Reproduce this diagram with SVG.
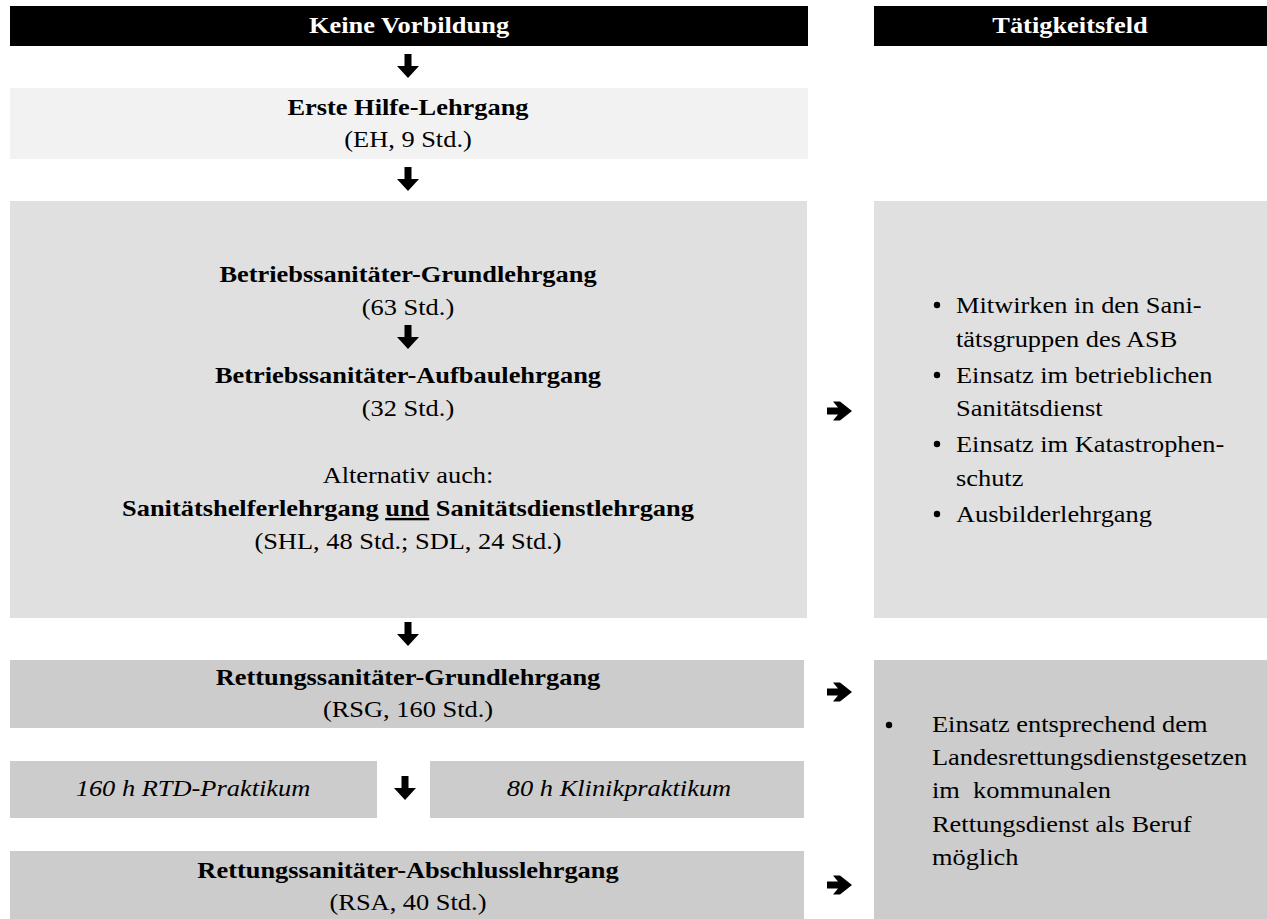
<svg xmlns="http://www.w3.org/2000/svg" width="1267" height="919" viewBox="0 0 1267 919">
<style>
text{font-family:"Liberation Serif","Times New Roman",serif;font-size:24px;fill:#000}
.c{text-anchor:middle}
.b{font-weight:bold}
.i{font-style:italic}
.w{fill:#fff}
.hdr{fill:#000}
.eh{fill:#f2f2f2}
.lt{fill:#e0e0e0}
.dk{fill:#cccccc}
.arr{fill:#000}
</style>
<defs>
<path id="down" d="M-3.5,0 H3.5 V12 H11 L0,24 L-11,12 H-3.5 Z"/>
<path id="right" d="M0,-3.5 H11 L6,-9.5 H13 L25,0 L13,9.5 H6 L11,3.5 H0 Z"/>
</defs>
<rect width="1267" height="919" fill="#fff"/>

<g id="header-left">
<rect class="hdr" x="10" y="6" width="798" height="40"/>
<text class="c b w" transform="translate(409 33) scale(1.1 1)">Keine Vorbildung</text>
</g>
<g id="header-right">
<rect class="hdr" x="874" y="6" width="393" height="40"/>
<text class="c b w" transform="translate(1070 33) scale(1.1 1)">Tätigkeitsfeld</text>
</g>

<g id="eh">
<rect class="eh" x="10" y="88" width="798" height="71"/>
<text class="c b" transform="translate(408 115) scale(1.1 1)">Erste Hilfe-Lehrgang</text>
<text class="c" transform="translate(408 147) scale(1.1 1)">(EH, 9 Std.)</text>
</g>

<g id="betrieb">
<rect class="lt" x="10" y="201" width="797" height="417"/>
<text class="c b" transform="translate(408 282) scale(1.1 1)">Betriebssanitäter-Grundlehrgang</text>
<text class="c" transform="translate(408 315) scale(1.1 1)">(63 Std.)</text>
<text class="c b" transform="translate(408 383) scale(1.1 1)">Betriebssanitäter-Aufbaulehrgang</text>
<text class="c" transform="translate(408 416) scale(1.1 1)">(32 Std.)</text>
<text class="c" transform="translate(408 483) scale(1.1 1)">Alternativ auch:</text>
<text class="c b" transform="translate(408 516) scale(1.1 1)">Sanitätshelferlehrgang <tspan style="text-decoration:underline">und</tspan> Sanitätsdienstlehrgang</text>
<text class="c" transform="translate(408 549) scale(1.1 1)">(SHL, 48 Std.; SDL, 24 Std.)</text>
</g>

<g id="taetigkeit-1">
<rect class="lt" x="874" y="201" width="393" height="417"/>
<circle cx="937" cy="305" r="3.2"/>
<circle cx="937" cy="375" r="3.2"/>
<circle cx="937" cy="444" r="3.2"/>
<circle cx="937" cy="514" r="3.2"/>
<text transform="translate(956 313) scale(1.1 1)">Mitwirken in den Sani-</text>
<text transform="translate(956 347) scale(1.1 1)">tätsgruppen des ASB</text>
<text transform="translate(956 383) scale(1.1 1)">Einsatz im betrieblichen</text>
<text transform="translate(956 416) scale(1.1 1)">Sanitätsdienst</text>
<text transform="translate(956 452) scale(1.1 1)">Einsatz im Katastrophen-</text>
<text transform="translate(956 486) scale(1.1 1)">schutz</text>
<text transform="translate(956 522) scale(1.1 1)">Ausbilderlehrgang</text>
</g>

<g id="rsg">
<rect class="dk" x="10" y="660" width="794" height="68"/>
<text class="c b" transform="translate(408 685) scale(1.1 1)">Rettungssanitäter-Grundlehrgang</text>
<text class="c" transform="translate(408 717) scale(1.1 1)">(RSG, 160 Std.)</text>
</g>

<g id="rtd-praktikum">
<rect class="dk" x="10" y="761" width="367" height="57"/>
<text class="c i" transform="translate(193 796) scale(1.1 1)">160 h RTD-Praktikum</text>
</g>

<g id="klinikpraktikum">
<rect class="dk" x="430" y="761" width="374" height="57"/>
<text class="c i" transform="translate(619 796) scale(1.1 1)">80 h Klinikpraktikum</text>
</g>

<g id="rsa">
<rect class="dk" x="10" y="851" width="794" height="68"/>
<text class="c b" transform="translate(408 878) scale(1.1 1)">Rettungssanitäter-Abschlusslehrgang</text>
<text class="c" transform="translate(408 910) scale(1.1 1)">(RSA, 40 Std.)</text>
</g>

<g id="taetigkeit-2">
<rect class="dk" x="874" y="660" width="393" height="259"/>
<circle cx="889" cy="725" r="3.2"/>
<text transform="translate(932 732) scale(1.1 1)">Einsatz entsprechend dem</text>
<text transform="translate(932 765) scale(1.1 1)">Landesrettungsdienstgesetzen</text>
<text xml:space="preserve" transform="translate(932 798) scale(1.1 1)">im  kommunalen</text>
<text transform="translate(932 832) scale(1.1 1)">Rettungsdienst als Beruf</text>
<text transform="translate(932 865) scale(1.1 1)">möglich</text>
</g>

<g id="connectors" class="arr">
<use href="#down" x="408" y="54"/>
<use href="#down" x="408" y="167"/>
<use href="#down" x="408" y="325"/>
<use href="#down" x="408" y="622"/>
<use href="#down" x="405" y="776"/>
<use href="#right" x="827" y="411"/>
<use href="#right" x="827" y="692"/>
<use href="#right" x="827" y="885"/>
</g>
</svg>
